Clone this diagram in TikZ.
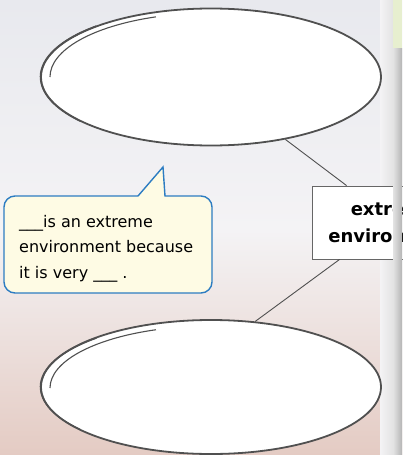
\documentclass[tikz,border=0pt]{standalone}
\usepackage{fontspec}
\setmainfont{DejaVu Sans}
\usetikzlibrary{shapes.geometric,calc}
\definecolor{bgtop}{HTML}{E8E9EE}
\definecolor{bgmid}{HTML}{F4F3F5}
\definecolor{bgbot}{HTML}{E4CBC3}
\definecolor{outl}{HTML}{505050}
\definecolor{bubfill}{HTML}{FEFBE4}
\definecolor{bubline}{HTML}{2C7CC2}
\definecolor{greenbox}{HTML}{E7EFCF}
\tikzset{
  cloud/.style={ellipse, draw=outl, line width=1.8pt, fill=white, minimum width=340pt, minimum height=137pt, inner sep=0pt},
  cloudinner/.style={draw=outl, line width=1.1pt},
  conn/.style={draw=outl, line width=0.9pt},
  mainbox/.style={draw=gray!80!black, line width=0.9pt, fill=white, minimum width=162pt, minimum height=73pt, inner sep=0pt, align=center, font=\fontsize{18}{27}\selectfont\bfseries},
  bubtext/.style={anchor=base west, align=left, inner sep=0pt, font=\fontsize{16}{25.5}\selectfont}
}
\begin{document}
\begin{tikzpicture}[x=1pt,y=-1pt]
\useasboundingbox (0,0) rectangle (402,455);
% background
\shade[top color=bgtop, bottom color=bgmid] (0,0) rectangle (402,230);
\shade[top color=bgmid, bottom color=bgbot] (0,230) rectangle (402,455.5);
\shade[left color=bgmid, right color=gray!22] (380,0) rectangle (393,455.5);
% top-right green box
\fill[greenbox] (393,0) rectangle (402,48);
\draw[gray!70, line width=0.8pt] (393,48) -- (402,48);
% clouds
\node[cloud] (topc) at (211,77) {};
\draw[cloudinner] (50,77) arc[start angle=180, end angle=250, x radius=161, y radius=64];
\draw[outl, line width=1.6pt] ($(topc.center)+(-170.5,0)$) arc[start angle=180, end angle=228, x radius=169, y radius=68.5];
\draw[outl, line width=1.4pt] ($(topc.center)+(-170.5,0)$) arc[start angle=180, end angle=140, x radius=169, y radius=68.5];
\node[cloud, minimum height=134pt] (botc) at (211,387) {};
\draw[cloudinner] (50,388) arc[start angle=180, end angle=250, x radius=161, y radius=62];
\draw[outl, line width=1.6pt] ($(botc.center)+(-170.5,0)$) arc[start angle=180, end angle=228, x radius=169, y radius=66];
\draw[outl, line width=1.4pt] ($(botc.center)+(-170.5,0)$) arc[start angle=180, end angle=140, x radius=169, y radius=66];
% central box
\node[mainbox] (box) at (393,222.5) {extreme\\environment};
\draw[conn] (topc.-40) -- ($(box.north west)+(35,0)$);
\draw[conn] ($(box.south west)+(28,0)$) -- (botc.56);
% speech bubble
\draw[bubline, fill=bubfill, line width=1.4pt] (138,196) [rounded corners=11pt] -- (4,196) -- (4,293) -- (212,293) -- (212,196) [sharp corners] -- (165,196) -- (163,167) -- cycle;
\node[bubtext] (btxt) at (19,278) {\_\_\_is an extreme\\environment because\\it is very \_\_\_ .};
% right edge strip
\shade[left color=gray!22, right color=gray!58] (393,48.4) rectangle (402,455.5);
\end{tikzpicture}
\end{document}
